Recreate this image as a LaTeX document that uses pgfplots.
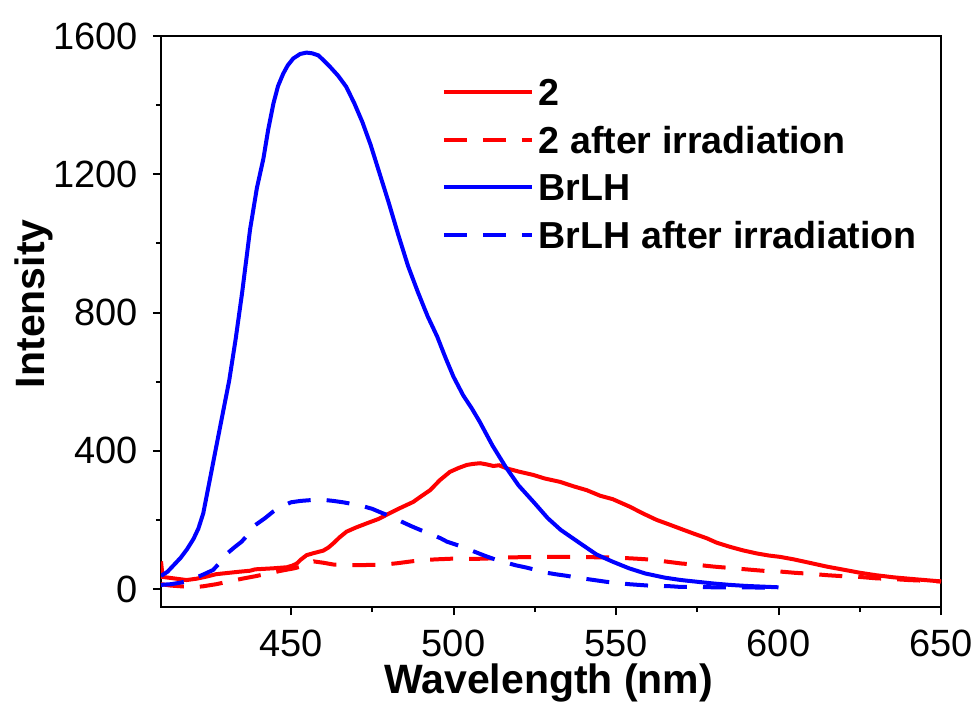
\documentclass[border=0pt]{standalone}
\usepackage{pgfplots}
\pgfplotsset{compat=1.18}
\usepackage{fontspec}
\setmainfont{Liberation Sans}
\definecolor{pred}{RGB}{255,0,0}
\definecolor{pblue}{RGB}{0,0,255}
\begin{document}
\begin{tikzpicture}
\begin{axis}[
  scale only axis,
  width=390pt, height=285.5pt,
  xmin=410, xmax=650, ymin=-52, ymax=1600,
  xtick={450,500,550,600,650},
  ytick={0,400,800,1200,1600},
  minor x tick num=1, minor y tick num=1,
  xtick pos=bottom, ytick pos=left,
  tick align=outside,
  major tick length=4pt, minor tick length=2.5pt,
  every tick/.style={black, line width=1pt},
  axis line style={line width=1pt},
  /pgf/number format/assume math mode=true,
  /pgf/number format/1000 sep={},
  tick label style={font=\fontsize{19}{22}\selectfont},
  yticklabel style={inner sep=0pt, xshift=-7.5pt},
  xticklabel style={inner sep=0pt, yshift=-7.5pt},
  xlabel={Wavelength (nm)},
  ylabel={Intensity},
  label style={font=\fontsize{20.5}{24}\selectfont\bfseries, inner sep=0pt},
  xlabel style={at={(axis description cs:0.497,-0.152)}, anchor=base},
  ylabel style={at={(axis description cs:-0.149,0.531)}, anchor=base},
  legend style={at={(axis description cs:0.36,0.926)}, anchor=north west,
    draw=none, fill=none, inner sep=0pt, outer sep=0pt,
    row sep=10.4pt, column sep=2.5pt,
    font=\fontsize{18.8}{22}\selectfont\bfseries,
    nodes={inner sep=0pt, text height=13.5pt, text depth=0pt}},
  legend cell align=left,
  legend image code/.code={\draw[#1] (0pt,0pt) -- (44pt,0pt);},
  every axis plot/.append style={line width=2pt},
]
\addplot[pred, solid] coordinates {
(410,80) (410.5,35) (413.8,31) (417.9,26) (421,30) (424,36) (427,43) (429,45) (434,50) (437.4,53) (439,57) (444.6,60) (448.7,63) (450.5,68) (451.8,74) (453,85) (454.8,98) (457,104) (459.9,111) (461.5,120) (463,132) (465,150) (467.1,166) (470,178) (473.3,190) (477,203) (480.5,220) (483.5,234) (487.6,252) (490,268) (492.8,286) (495.8,315) (498.9,339) (501.5,350) (504.1,359) (506,362) (508.2,364) (510,361) (512.3,356) (514,358) (516.4,349) (520,340) (524.6,330) (528,320) (532.8,310) (537,297) (541,286) (545.1,270) (549,260) (554.3,238) (558,220) (562.5,200) (566,188) (569.7,175) (574,160) (577.9,147) (581,134) (585.1,122) (589,112) (593.3,103) (597,97) (600.5,93) (604.6,86) (610,75) (614.8,65) (620,56) (625.1,47) (630,40) (635.3,34) (640,30) (645,26) (650,22)
};
\addlegendentry{2}
\addplot[pred, dash pattern=on 11.5pt off 8pt] coordinates {
(410,14) (413,10) (416,8) (420,5) (423,8) (427,14) (431,22) (435,30) (439,37) (443,45) (447,53) (451,60) (455,70) (457,80) (460,76) (463,71) (467,70) (471,69) (475,70) (479,71) (483,75) (487,80) (491,84) (495,86) (500,88) (505,87) (510,88) (515,91) (520,92) (527,93) (535,93) (543,92) (550,91) (556,88) (561,85) (565,80) (570,74) (575,70) (580,65) (585,61) (590,57) (595,53) (600,51) (605,47) (610,44) (615,40) (620,37) (625,35) (630,31) (635,29) (640,26) (645,24) (650,22)
};
\addlegendentry{2 after irradiation}
\addplot[pblue, solid] coordinates {
(410,38) (412,50) (414,70) (416,90) (418,115) (420,145) (421.5,175) (423,219) (425,315) (427,412) (429,508) (431,604) (433,725) (435,860) (437.4,1040) (439.5,1160) (441.5,1245) (443,1330) (444.6,1405) (446,1455) (447.6,1491) (449,1515) (450.7,1535) (452.8,1548) (454.8,1552) (456.5,1550) (458.4,1544) (460,1530) (462,1511) (464.5,1485) (467,1453) (469.5,1405) (472,1350) (474.5,1285) (477,1210) (480,1120) (483,1025) (486,935) (489,860) (492,790) (495,730) (497.5,670) (500,614) (503,560) (505.6,523) (508,485) (512,415) (516,354) (520,300) (525,248) (529,205) (533,171) (539,132) (544,100) (549,79) (554,60) (559,45) (565,33) (570,26) (575,21) (580,16) (585,12) (590,9) (595,7) (600,5)
};
\addlegendentry{BrLH}
\addplot[pblue, dash pattern=on 11.5pt off 8pt] coordinates {
(410,12) (413,14) (415,17) (418,22) (420.5,32) (423,42) (426,55) (428,75) (430,100) (432.5,120) (434.8,137) (437,160) (439,185) (442,205) (444.5,224) (447,238) (450,251) (453,255) (457,258) (460,258) (463,255) (466,251) (469,246) (472,240) (475,232) (478,220) (481,209) (484,195) (487,182) (490,170) (493,159) (496,147) (498,137) (501.5,126) (504.6,115) (507,106) (510,95) (513,85) (516.4,76) (519,69) (522.5,62) (525.5,55) (528.7,47) (532,42) (535,38) (538,33) (541,29) (544,25) (547,21) (550,18) (554,14) (557,12) (560,10) (563,9) (567,8) (570,6) (575,6) (580,5) (585,5) (590,5) (595,4) (600,4)
};
\addlegendentry{BrLH after irradiation}
\end{axis}
\pgfresetboundingbox
\path (current axis.south west) ++(-80.5pt,-47.5pt) rectangle ++(488.5pt,351pt);
\end{tikzpicture}
\end{document}
